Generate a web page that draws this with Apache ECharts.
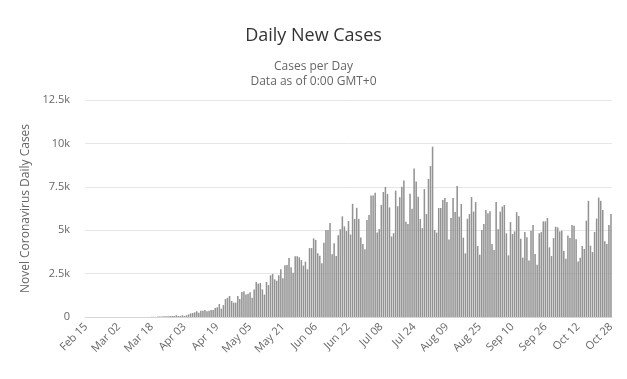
<!DOCTYPE html>
<html>
<head>
<meta charset="utf-8">
<script src="https://cdn.jsdelivr.net/npm/echarts@6/dist/echarts.min.js"></script>
<style>
html,body{margin:0;padding:0;background:#fff;}
#chart{width:627px;height:379px;}
</style>
</head>
<body>
<div id="chart"></div>
<script>
// Daily new cases, one array per month (2020)
const febValues = [0,0,0,0,0,0,0,0,0,0,0,0,0,1,0];
const marValues = [0,0,0,1,0,1,0,0,1,0,1,0,0,0,1,4,3,12,12,7,29,25,35,46,40,50,60,60,60,100,60];
const aprValues = [60,100,60,100,150,210,230,270,330,250,365,365,400,330,365,400,400,520,560,750,480,690,1040,1110,1210,920,830,830,1210,1040];
const mayValues = [1440,1480,1300,1340,1420,1110,1590,2020,1920,1960,1590,1290,2020,1840,2400,2480,2170,2090,2400,2750,2230,2980,3000,3400,2860,2550,3500,3500,3440,3280,2960];
const junValues = [3190,2750,3970,3970,4530,4440,3670,3530,3090,4280,5010,5010,5410,3610,4250,3510,4710,5060,5800,5220,4950,5530,4750,6520,5650,6290,5650,4580,4210,3900];
const julValues = [5590,5880,7000,7000,7160,4870,5060,6460,7200,7490,7080,6310,4640,4830,7280,6380,6900,7510,7860,5490,5350,7100,6230,8560,7800,6930,5640,5120,7370,5930,7950];
const augValues = [8700,9810,5010,4860,6280,6280,6740,6850,6620,4470,5700,6850,6050,7540,5780,6510,4570,3670,5660,5930,6910,6070,6620,4090,3590,5010,5360,6170,5970,6090,4200];
const sepValues = [3860,6620,5050,6070,6360,6450,4820,3550,5470,4780,4930,6040,5820,4510,3420,4890,4590,3250,4970,5300,3630,3010,4820,4890,5510,5510,5700,4010,3510,4550];
const octValues = [5200,5160,4930,4970,3800,3360,4700,4550,5300,5250,4480,3190,3410,4090,3920,5550,6690,4110,3740,4900,5670,6880,6690,6160,4360,4200,5300,5930];

const monthNames = ['Feb','Mar','Apr','May','Jun','Jul','Aug','Sep','Oct'];
const monthStartDay = [15,1,1,1,1,1,1,1,1];
const monthArrays = [febValues,marValues,aprValues,mayValues,junValues,julValues,augValues,sepValues,octValues];

const categories = [];
const values = [];
monthArrays.forEach((arr, m) => {
  arr.forEach((v, i) => {
    const d = monthStartDay[m] + i;
    categories.push(monthNames[m] + ' ' + (d < 10 ? '0' + d : d));
    values.push(v);
  });
});

const yTicks = [0, 2500, 5000, 7500, 10000, 12500];

const FONT = '"Open Sans", "Noto Sans", sans-serif';
const chart = echarts.init(document.getElementById('chart'), null, {renderer: 'canvas'});
chart.setOption({
  animation: false,
  backgroundColor: '#fff',
  title: [
    {text: 'Daily New Cases', left: 'center', top: 22,
     textStyle: {fontFamily: FONT, fontSize: 18, fontWeight: 'normal', color: '#333'}},
    {text: 'Cases per Day\nData as of 0:00 GMT+0', left: 'center', top: 54,
     textStyle: {fontFamily: FONT, fontSize: 12, fontWeight: 'normal', color: '#666', lineHeight: 15, align: 'center'}}
  ],
  grid: {left: 85, right: 15, top: 100, bottom: 62, containLabel: false},
  xAxis: {
    type: 'category',
    data: categories,
    boundaryGap: true,
    axisLine: {lineStyle: {color: '#ccd6eb'}},
    axisTick: {show: false},
    axisLabel: {interval: 15, rotate: 45, color: '#666', fontFamily: FONT, fontSize: 11, margin: 8}
  },
  yAxis: {
    type: 'value',
    min: yTicks[0], max: yTicks[yTicks.length - 1], interval: 2500,
    name: 'Novel Coronavirus Daily Cases',
    nameLocation: 'middle', nameGap: 45,
    nameTextStyle: {color: '#666', fontFamily: FONT, fontSize: 12},
    axisLine: {show: false},
    axisTick: {show: false},
    splitLine: {lineStyle: {color: '#e6e6e6'}},
    axisLabel: {color: '#666', fontFamily: FONT, fontSize: 11, margin: 15,
      formatter: v => v === 0 ? '0' : (v / 1000) + 'k'}
  },
  series: [{
    type: 'bar',
    data: values,
    barCategoryGap: '25%',
    itemStyle: {color: '#939393'}
  }]
});
</script>
</body>
</html>
